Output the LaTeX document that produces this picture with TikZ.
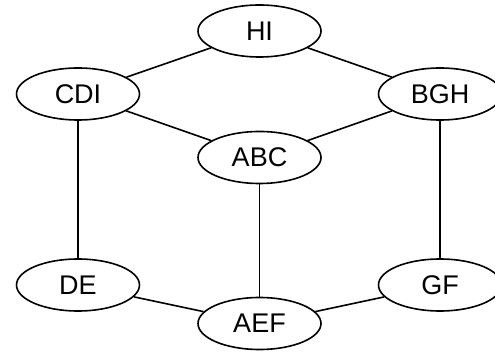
\documentclass[tikz,border=0pt]{standalone}
\usepackage{fontspec}
\setmainfont{Liberation Sans}
\usetikzlibrary{shapes.geometric}
\begin{document}
\begin{tikzpicture}[x=1pt,y=-1pt,
  setnode/.style={draw, ellipse, line width=1.6pt, minimum width=123pt, minimum height=52pt, inner sep=0pt, font=\fontsize{27}{31}\selectfont},
  link/.style={line width=1.6pt}]
  \useasboundingbox (0,0) rectangle (495,352);
  \node[setnode] (HI)  at (259.5,31)  {HI};
  \node[setnode] (CDI) at (78,94)     {CDI};
  \node[setnode] (BGH) at (440,94)    {BGH};
  \node[setnode] (ABC) at (259.5,157.5) {ABC};
  \node[setnode] (DE)  at (78,285)    {DE};
  \node[setnode] (GF)  at (440,285)   {GF};
  \node[setnode] (AEF) at (259.5,323.5) {AEF};
  \draw[link] (CDI) -- (HI);
  \draw[link] (HI) -- (BGH);
  \draw[link] (CDI) -- (ABC);
  \draw[link] (BGH) -- (ABC);
  \draw[link] (CDI) -- (DE);
  \draw[link] (BGH) -- (GF);
  \draw[link] (ABC) -- (AEF);
  \draw[link] (DE) -- (AEF);
  \draw[link] (GF) -- (AEF);
\end{tikzpicture}
\end{document}
